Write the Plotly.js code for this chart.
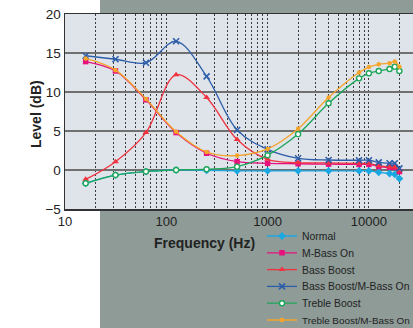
<!DOCTYPE html>
<html><head><meta charset="utf-8">
<script src="https://cdn.plot.ly/plotly-3.0.1.min.js"></script>
<style>html,body{margin:0;padding:0;background:#fff;overflow:hidden}#chart{width:413px;height:328px}</style>
</head><body><div id="chart"></div>
<script>
// ---- data ----
const freqs = [16, 31.5, 63, 125, 250, 500, 1000, 2000, 4000, 8000, 10000, 12500, 16000, 18000, 20000];
const normal      = [-1.7, -0.65, -0.2, 0.0, -0.05, -0.1, -0.1, -0.1, -0.1, -0.1, -0.1, -0.3, -0.45, -0.55, -1.1];
const mBassOn     = [13.9, 12.7, 9.0, 4.8, 2.15, 1.07, 0.86, 0.8, 0.75, 0.72, 0.72, 0.45, 0.35, 0.35, -0.2];
const bassBoost   = [-1.2, 1.07, 4.8, 12.2, 9.3, 3.9, 1.37, 0.95, 0.9, 0.85, 0.85, 0.55, 0.4, 0.4, -0.1];
const bassBoostMB = [14.65, 14.2, 13.75, 16.5, 12.0, 5.13, 2.65, 1.5, 1.28, 1.25, 1.25, 0.98, 0.86, 0.86, 0.2];
const trebleBoost = [-1.7, -0.65, -0.2, 0.0, 0.1, 0.43, 1.9, 4.6, 8.55, 11.75, 12.4, 12.7, 12.95, 13.25, 12.7];
const trebleMB    = [14.3, 12.8, 9.1, 4.9, 2.3, 1.85, 2.7, 5.3, 9.3, 12.5, 13.2, 13.55, 13.7, 13.9, 13.25];
const seriesNames = ['Normal', 'M-Bass On', 'Bass Boost', 'Bass Boost/M-Bass On', 'Treble Boost', 'Treble Boost/M-Bass On'];
const xTickVals = [10, 100, 1000, 10000];
const xTickText = ['10', '100', '1000', '10000'];
const yTickVals = [-5, 0, 5, 10, 15, 20];
const xTitle = 'Frequency (Hz)';
const yTitle = 'Level (dB)';

// ---- layout geometry ----
const W = 413, H = 328, L = 65, T = 14, PW = 348, PH = 195;
const px2x = px => (px - L) / PW;
const px2y = py => (T + PH - py) / PH;
const FONT = 'Liberation Sans, Arial, Helvetica, sans-serif';

const styles = [
  {color: '#1aa8e2', symbol: 'diamond', size: 6},
  {color: '#e5127d', symbol: 'square', size: 5.5},
  {color: '#ef3340', symbol: 'triangle-up', size: 6},
  {color: '#2d5ea9', symbol: 'x-thin', size: 6, line: {color: '#2d5ea9', width: 1.6}},
  {color: '#1ea65a', symbol: 'circle', size: 5, fill: '#ffffff', line: {color: '#1ea65a', width: 1.4}},
  {color: '#f4a52a', symbol: 'circle', size: 4.5}
];
const seriesData = [normal, mBassOn, bassBoost, bassBoostMB, trebleBoost, trebleMB];
const legendIds = ['legend', 'legend2', 'legend3', 'legend4', 'legend5', 'legend6'];

const traces = seriesData.map((ys, i) => {
  const s = styles[i];
  return {
    x: freqs, y: ys, name: seriesNames[i], type: 'scatter', mode: 'lines+markers',
    legend: legendIds[i],
    line: {color: s.color, width: 1.3, shape: 'spline'},
    marker: {symbol: s.symbol, size: s.size, color: s.fill || s.color,
             line: s.line || {width: 0}},
    hoverinfo: 'skip'
  };
});

const layout = {
  width: W, height: H,
  margin: {l: L, r: W - L - PW, t: T, b: H - T - PH, autoexpand: false},
  paper_bgcolor: '#ffffff',
  plot_bgcolor: 'rgba(0,0,0,0)',
  font: {family: FONT, color: '#222'},
  showlegend: true,
  xaxis: {
    type: 'log', range: [1, 1 + PW / 101.3],
    tickmode: 'array', tickvals: xTickVals, ticktext: xTickText,
    tickfont: {size: 13, color: '#222'}, ticks: '',
    showgrid: true, gridcolor: '#3a3a3a', gridwidth: 1, griddash: '2px,2px',
    minor: {dtick: 'D1', showgrid: true, gridcolor: '#3a3a3a', gridwidth: 1, griddash: '2px,2px', ticks: ''},
    showline: true, linecolor: '#333', linewidth: 1.5, mirror: true,
    zeroline: false, fixedrange: true
  },
  yaxis: {
    range: [-5, 20], tickmode: 'array', tickvals: yTickVals,
    tickfont: {size: 13.5, color: '#222'}, ticks: '',
    showgrid: true, gridcolor: '#707070', gridwidth: 1.7,
    showline: true, linecolor: '#333', linewidth: 1.5,
    zeroline: false, fixedrange: true
  },
  shapes: [
    {type: 'rect', xref: 'paper', yref: 'paper', x0: px2x(100), x1: px2x(W + 5), y0: px2y(H + 5), y1: px2y(-5),
     fillcolor: '#8e9b97', line: {width: 0}, layer: 'below'},
    {type: 'rect', xref: 'paper', yref: 'paper', x0: 0, x1: 1, y0: 0, y1: 1,
     fillcolor: '#dfe3ea', line: {width: 0}, layer: 'below'}
  ],
  annotations: [
    {text: '<b>' + yTitle + '</b>', xref: 'paper', yref: 'paper', x: px2x(36), y: px2y(114),
     textangle: -90, showarrow: false, font: {size: 14, color: '#222', family: FONT}, xanchor: 'center', yanchor: 'middle'},
    {text: '<b>' + xTitle + '</b>', xref: 'paper', yref: 'paper', x: px2x(204), y: px2y(243),
     showarrow: false, font: {size: 14, color: '#222', family: FONT}, xanchor: 'center', yanchor: 'middle'}
  ],
  hovermode: false
};

legendIds.forEach((id, i) => {
  const cy = 236 + i * 16.8;
  layout[id] = {
    xref: 'container', yref: 'container', x: 262 / W, y: 1 - (cy - 14.5) / H,
    xanchor: 'left', yanchor: 'top', bgcolor: 'rgba(0,0,0,0)', borderwidth: 0,
    font: {size: i === 5 ? 9.9 : 10.4, color: '#222', family: FONT}, itemclick: false, itemdoubleclick: false
  };
});

Plotly.newPlot('chart', traces, layout, {staticPlot: true, displayModeBar: false});
</script>
</body></html>
